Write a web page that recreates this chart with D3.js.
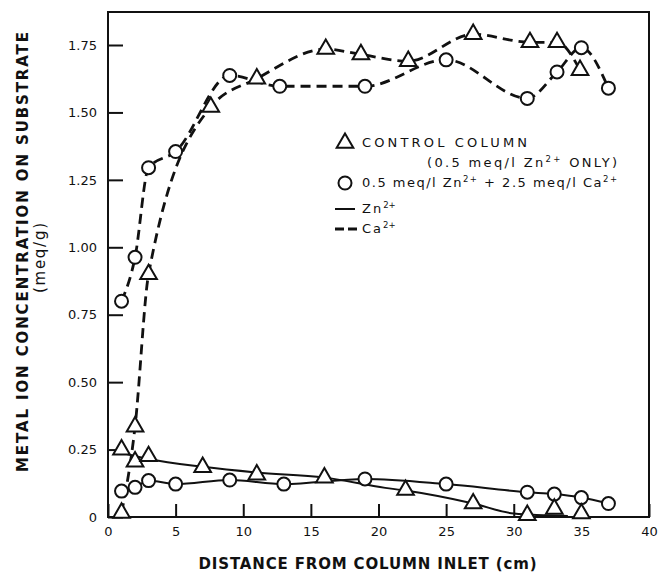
<!DOCTYPE html>
<html>
<head>
<meta charset="utf-8">
<script src="https://cdn.jsdelivr.net/npm/d3@7"></script>
<style>
  body { margin: 0; background: #fff; }
  text { font-family: "DejaVu Sans", sans-serif; fill: #111; }
</style>
</head>
<body>
<div id="chart"></div>
<script>
// tick values
var xTicks = [0, 5, 10, 15, 20, 25, 30, 35, 40];
var yTicks = [0, 0.25, 0.5, 0.75, 1.0, 1.25, 1.5, 1.75];

// control column (0.5 meq/l Zn only) - triangles
var ctrlZnX = [1, 2, 3, 7, 11, 16, 22, 27, 31, 33, 35];
var ctrlZnY = [0.25, 0.205, 0.225, 0.185, 0.157, 0.146, 0.10, 0.05, 0.007, 0.03, 0.013];
// hand drawn Zn trend line of the control column
var ctrlZnFitX = [0.5, 3, 7, 11, 16, 20.5, 22, 27, 30, 34];
var ctrlZnFitY = [0.245, 0.215, 0.186, 0.165, 0.146, 0.108, 0.098, 0.05, 0.013, 0.004];
var ctrlCaX = [1, 2, 3, 7.6, 11, 16.1, 18.7, 22.2, 27, 31.2, 33.2, 34.9];
var ctrlCaY = [0.015, 0.335, 0.90, 1.52, 1.625, 1.735, 1.715, 1.69, 1.79, 1.76, 1.76, 1.657];

// 0.5 meq/l Zn + 2.5 meq/l Ca - circles
var mixZnX = [1, 2, 3, 5, 9, 13, 19, 25, 31, 33, 35, 37];
var mixZnY = [0.096, 0.11, 0.135, 0.122, 0.137, 0.122, 0.141, 0.122, 0.092, 0.085, 0.072, 0.05];
var mixCaX = [1, 2, 3, 5, 9, 12.7, 19, 25, 31, 33.2, 35, 37];
var mixCaY = [0.80, 0.963, 1.295, 1.355, 1.637, 1.597, 1.597, 1.695, 1.552, 1.65, 1.74, 1.59];

var W = 658, H = 572;
var pLeft = 108, pRight = 649, pTop = 12, pBottom = 517;

var svg = d3.select("#chart").append("svg")
    .attr("width", W)
    .attr("height", H);

var x = d3.scaleLinear().domain([0, 40]).range([pLeft, pRight]);
var y = d3.scaleLinear().domain([0, 1.75]).range([pBottom, 45]);

function pts(xs, ys) {
    return xs.map(function(d, i) { return [d, ys[i]]; });
}

// axes (ticks point inward)
var xAxis = d3.axisBottom(x).tickValues(xTicks).tickSize(-13).tickPadding(10).tickSizeOuter(0);
var yAxis = d3.axisLeft(y).tickValues(yTicks).tickSize(-15).tickPadding(11).tickSizeOuter(0)
    .tickFormat(function(d) { return d === 0 ? "0" : d3.format(".2f")(d); });

var gx = svg.append("g")
    .attr("transform", "translate(0," + pBottom + ")")
    .call(xAxis);
var gy = svg.append("g")
    .attr("transform", "translate(" + pLeft + ",0)")
    .call(yAxis);

[gx, gy].forEach(function(g) {
    g.select(".domain").remove();
    g.selectAll("line").attr("stroke", "#111").attr("stroke-width", 2);
    g.selectAll("text").attr("font-size", 13).attr("font-family", "DejaVu Sans").attr("fill", "#111");
});

// frame
svg.append("rect")
    .attr("x", pLeft).attr("y", pTop)
    .attr("width", pRight - pLeft).attr("height", pBottom - pTop)
    .attr("fill", "none").attr("stroke", "#111").attr("stroke-width", 2);

// lines
var curve = d3.line().x(function(d) { return x(d[0]); }).y(function(d) { return y(d[1]); })
    .curve(d3.curveMonotoneX);

function drawLine(data, dashed) {
    svg.append("path")
        .datum(data)
        .attr("d", curve)
        .attr("fill", "none")
        .attr("stroke", "#111")
        .attr("stroke-width", dashed ? 2.8 : 2)
        .attr("stroke-dasharray", dashed ? "10,6" : null);
}

drawLine(pts(ctrlZnFitX, ctrlZnFitY), false);
drawLine(pts(mixZnX, mixZnY), false);
drawLine(pts(ctrlCaX, ctrlCaY), true);
drawLine(pts(mixCaX, mixCaY), true);

// markers
var tri = d3.symbol().type(d3.symbolTriangle).size(120);

function triangles(data) {
    svg.selectAll(null).data(data).enter().append("path")
        .attr("d", tri)
        .attr("transform", function(d) { return "translate(" + x(d[0]) + "," + y(d[1]) + ")"; })
        .attr("fill", "#fff").attr("stroke", "#111").attr("stroke-width", 2);
}
function circles(data) {
    svg.selectAll(null).data(data).enter().append("circle")
        .attr("cx", function(d) { return x(d[0]); })
        .attr("cy", function(d) { return y(d[1]); })
        .attr("r", 6.5)
        .attr("fill", "#fff").attr("stroke", "#111").attr("stroke-width", 2);
}

circles(pts(mixZnX, mixZnY));
circles(pts(mixCaX, mixCaY));
triangles(pts(ctrlZnX, ctrlZnY));
triangles(pts(ctrlCaX, ctrlCaY));

// legend
var lg = svg.append("g").attr("font-size", 13);

lg.append("path").attr("d", tri).attr("transform", "translate(345,143)")
    .attr("fill", "#fff").attr("stroke", "#111").attr("stroke-width", 2);
lg.append("text").attr("x", 362).attr("y", 147).attr("textLength", 165)
    .text("CONTROL COLUMN");

var t2 = lg.append("text").attr("x", 427).attr("y", 167).attr("textLength", 190);
t2.append("tspan").text("(0.5 meq/l Zn");
t2.append("tspan").attr("dy", -5).attr("font-size", 8.5).text("2+");
t2.append("tspan").attr("dy", 5).text(" ONLY)");

lg.append("circle").attr("cx", 345).attr("cy", 183).attr("r", 6.5)
    .attr("fill", "#fff").attr("stroke", "#111").attr("stroke-width", 2);
var t3 = lg.append("text").attr("x", 362).attr("y", 187).attr("textLength", 255);
t3.append("tspan").text("0.5 meq/l Zn");
t3.append("tspan").attr("dy", -5).attr("font-size", 8.5).text("2+");
t3.append("tspan").attr("dy", 5).text(" + 2.5 meq/l Ca");
t3.append("tspan").attr("dy", -5).attr("font-size", 8.5).text("2+");

lg.append("line").attr("x1", 335).attr("x2", 355).attr("y1", 209).attr("y2", 209)
    .attr("stroke", "#111").attr("stroke-width", 2);
var t4 = lg.append("text").attr("x", 362).attr("y", 213);
t4.append("tspan").attr("letter-spacing", 2).text("Zn");
t4.append("tspan").attr("dy", -5).attr("font-size", 8.5).text("2+");

lg.append("line").attr("x1", 335).attr("x2", 357).attr("y1", 229).attr("y2", 229)
    .attr("stroke", "#111").attr("stroke-width", 2.8).attr("stroke-dasharray", "9,4");
var t5 = lg.append("text").attr("x", 362).attr("y", 233);
t5.append("tspan").attr("letter-spacing", 2).text("Ca");
t5.append("tspan").attr("dy", -5).attr("font-size", 8.5).text("2+");

// axis titles
svg.append("text")
    .attr("x", (pLeft + pRight) / 2 - 11).attr("y", 569)
    .attr("text-anchor", "middle")
    .attr("font-size", 15).attr("font-weight", "bold")
    .attr("textLength", 338)
    .text("DISTANCE FROM COLUMN INLET (cm)");

svg.append("text")
    .attr("transform", "translate(28,252) rotate(-90)")
    .attr("text-anchor", "middle")
    .attr("font-size", 15).attr("font-weight", "bold")
    .attr("textLength", 440)
    .text("METAL ION CONCENTRATION ON SUBSTRATE");

svg.append("text")
    .attr("transform", "translate(45,258) rotate(-90)")
    .attr("text-anchor", "middle")
    .attr("font-size", 15)
    .attr("textLength", 70)
    .text("(meq/g)");
</script>
</body>
</html>
